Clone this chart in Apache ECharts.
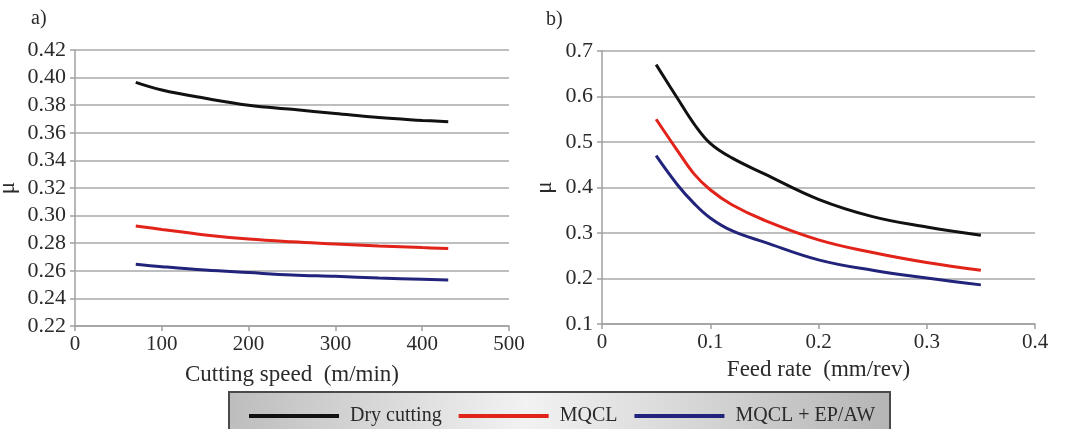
<!DOCTYPE html>
<html>
<head>
<meta charset="utf-8">
<script src="https://cdn.jsdelivr.net/npm/echarts@6/dist/echarts.min.js"></script>
<style>
  html, body { margin: 0; padding: 0; background: #fff; }
  #chart { width: 1065px; height: 429px; }
</style>
</head>
<body>
<div id="chart"></div>
<script>
// a) cutting speed (m/min)
const speedX = [70, 100, 150, 200, 250, 300, 350, 400, 430];
const dryA = [0.3965, 0.391, 0.385, 0.380, 0.377, 0.374, 0.371, 0.369, 0.368];
const mqclA = [0.2925, 0.290, 0.286, 0.283, 0.281, 0.2795, 0.278, 0.2768, 0.2762];
const mqclEpA = [0.2648, 0.263, 0.2605, 0.2587, 0.257, 0.256, 0.2548, 0.2538, 0.2533];

// b) feed rate (mm/rev)
const feedX = [0.05, 0.07, 0.085, 0.1, 0.12, 0.15, 0.2, 0.25, 0.3, 0.35];
const dryB = [0.670, 0.595, 0.540, 0.497, 0.465, 0.430, 0.374, 0.336, 0.313, 0.295];
const mqclB = [0.550, 0.480, 0.430, 0.395, 0.362, 0.328, 0.285, 0.257, 0.235, 0.218];
const mqclEpB = [0.470, 0.405, 0.365, 0.333, 0.305, 0.280, 0.241, 0.218, 0.201, 0.186];

const seriesNames = ['Dry cutting', 'MQCL', 'MQCL + EP/AW'];
const colors = ['#111111', '#e2231a', '#22237a'];

const FONT = 'Liberation Serif';
const chart = echarts.init(document.getElementById('chart'));

function pairs(xs, ys) {
  return xs.map((x, i) => [x, ys[i]]);
}

const axisCommon = {
  axisLine: { show: true, lineStyle: { color: '#a0a0a0', width: 1.5 } },
  axisTick: { show: true, length: 5, lineStyle: { color: '#a0a0a0', width: 1.5 } },
  axisLabel: { color: '#2a2a2a', fontFamily: FONT, fontSize: 21 },
  nameTextStyle: { color: '#2a2a2a', fontFamily: FONT, fontSize: 23 }
};

function yAxis(grid, min, max, step, digits, gap) {
  return Object.assign({}, axisCommon, {
    type: 'value', gridIndex: grid, min: min, max: max, interval: step,
    name: 'μ', nameLocation: 'middle', nameRotate: 90, nameGap: gap,
    splitLine: { show: true, lineStyle: { color: '#a8a8a8', width: 1.5 } },
    axisLabel: Object.assign({}, axisCommon.axisLabel, {
      margin: 9, fontSize: 22,
      formatter: v => v.toFixed(digits)
    })
  });
}

function xAxis(grid, min, max, step, name, gap) {
  return Object.assign({}, axisCommon, {
    type: 'value', gridIndex: grid, min: min, max: max, interval: step,
    name: name, nameLocation: 'middle', nameGap: gap,
    splitLine: { show: false },
    axisLabel: Object.assign({}, axisCommon.axisLabel, { margin: 8 })
  });
}

function line(name, idx, grid, data) {
  return {
    name: name, type: 'line', xAxisIndex: grid, yAxisIndex: grid,
    data: data, smooth: 0.4, symbol: 'none',
    lineStyle: { color: colors[idx], width: 3 },
    itemStyle: { color: colors[idx] }
  };
}

chart.setOption({
  animation: false,
  grid: [
    { left: 75, right: 556, top: 50, bottom: 103, containLabel: false, outerBoundsMode: 'none' },
    { left: 602, right: 30, top: 51, bottom: 105, containLabel: false, outerBoundsMode: 'none' }
  ],
  xAxis: [
    xAxis(0, 0, 500, 100, 'Cutting speed  (m/min)', 37),
    xAxis(1, 0, 0.4, 0.1, 'Feed rate  (mm/rev)', 34)
  ],
  yAxis: [
    yAxis(0, 0.22, 0.42, 0.02, 2, 56),
    yAxis(1, 0.1, 0.7, 0.1, 1, 46)
  ],
  graphic: [
    {
      type: 'rect', z: -1,
      shape: { x: 229, y: 392, width: 661, height: 45 },
      style: {
        fill: new echarts.graphic.LinearGradient(0, 0, 1, 0, [
          { offset: 0, color: '#bdbdbd' },
          { offset: 0.45, color: '#f2f2f2' },
          { offset: 1, color: '#b5b5b5' }
        ]),
        stroke: '#4a4a4a', lineWidth: 2
      }
    },
    { type: 'text', left: 31, top: 9, style: { text: 'a)', font: '20px "Liberation Serif"', fill: '#2a2a2a' } },
    { type: 'text', left: 546, top: 10, style: { text: 'b)', font: '20px "Liberation Serif"', fill: '#2a2a2a' } }
  ],
  legend: {
    data: seriesNames,
    left: 244, top: 401,
    icon: 'rect', itemWidth: 90, itemHeight: 4, itemGap: 17,
    textStyle: { color: '#2a2a2a', fontFamily: FONT, fontSize: 20, padding: [0, 0, 0, 6] }
  },
  series: [
    line(seriesNames[0], 0, 0, pairs(speedX, dryA)),
    line(seriesNames[1], 1, 0, pairs(speedX, mqclA)),
    line(seriesNames[2], 2, 0, pairs(speedX, mqclEpA)),
    line(seriesNames[0], 0, 1, pairs(feedX, dryB)),
    line(seriesNames[1], 1, 1, pairs(feedX, mqclB)),
    line(seriesNames[2], 2, 1, pairs(feedX, mqclEpB))
  ]
});
</script>
</body>
</html>
